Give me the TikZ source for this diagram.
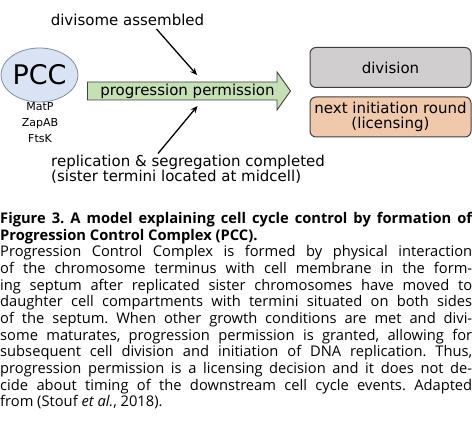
\documentclass[tikz,border=0pt]{standalone}
\usepackage{fontspec}
\setmainfont{DejaVu Sans}
\newfontfamily\captionfont{Open Sans}
\usetikzlibrary{arrows.meta,shapes.geometric}
\frenchspacing

\definecolor{pccfill}{HTML}{DAE3F3}
\definecolor{pccline}{HTML}{7F8FA6}
\definecolor{permfill}{HTML}{C5E0B4}
\definecolor{divfill}{HTML}{D0CECE}
\definecolor{initfill}{HTML}{F0C8AC}
\definecolor{boxline}{HTML}{404040}

\tikzset{
	label text/.style={font=\fontsize{15}{15}\selectfont, inner sep=0pt},
	result box/.style={draw=boxline, line width=1pt, rounded corners=6pt, minimum width=161pt, minimum height=40pt, align=center, font=\fontsize{15}{15.5}\selectfont, inner sep=0pt},
	cue/.style={line width=1.3pt, -{Stealth[length=7pt,width=6pt]}}
}

\begin{document}
\begin{tikzpicture}[x=1pt,y=-1pt]
		\useasboundingbox (0,0) rectangle (472,438);
		% complex
		\node[ellipse, draw=pccline, fill=pccfill, line width=0.8pt, minimum width=77pt, minimum height=54pt, inner sep=0pt, font=\fontsize{27}{27}\selectfont] (pcc) at (39.5,75) {PCC};
		\node[align=center, inner sep=0pt, font=\fontsize{11}{16}\selectfont, anchor=north] (parts) at (40,102) {MatP\\ZapAB\\FtsK};
		% permission arrow
		\draw[draw=boxline, fill=permfill, line width=0.9pt] (87.5,82) -- (277,82) -- (277,72) -- (290.5,91) -- (277,110) -- (277,100) -- (87.5,100) -- cycle;
		\node[label text] (perm) at (187.5,91) {progression permission};
		% conditions
		\node[label text] (divisome) at (127.5,20) {divisome assembled};
		\node[label text, align=left, anchor=north west, font=\fontsize{15}{15}\selectfont] (replication) at (51,155) {replication \& segregation completed\\(sister termini located at midcell)};
		\coordinate (top in) at (197,75);
		\coordinate (bottom in) at (197.5,106);
		\draw[cue] (156.5,29) -- (top in);
		\draw[cue] (158,153.5) -- (bottom in);
		% outcomes
		\node[result box, fill=divfill] (division) at (390.5,67.5) {division};
		\node[result box, fill=initfill] (initiation) at (390.5,117) {next initiation round\\(licensing)};
		% caption
		\node[anchor=north west, inner sep=0pt, text width=472pt, align=justify, font=\captionfont\fontsize{14.7}{16.67}\selectfont] (caption) at (0,212) {%
			\textbf{Figure 3. A model explaining cell cycle control by formation of\linebreak Progression Control Complex (PCC).}\par
			Progression Control Complex is formed by physical interaction\linebreak of the chromosome terminus with cell membrane in the form-\linebreak ing septum after replicated sister chromosomes have moved to\linebreak daughter cell compartments with termini situated on both sides\linebreak of the septum. When other growth conditions are met and divi-\linebreak some maturates, progression permission is granted, allowing for\linebreak subsequent cell division and initiation of DNA replication. Thus,\linebreak progression permission is a licensing decision and it does not de-\linebreak cide about timing of the downstream cell cycle events. Adapted\linebreak from (Stouf \textit{et al.}, 2018).};
	\end{tikzpicture}
\end{document}
